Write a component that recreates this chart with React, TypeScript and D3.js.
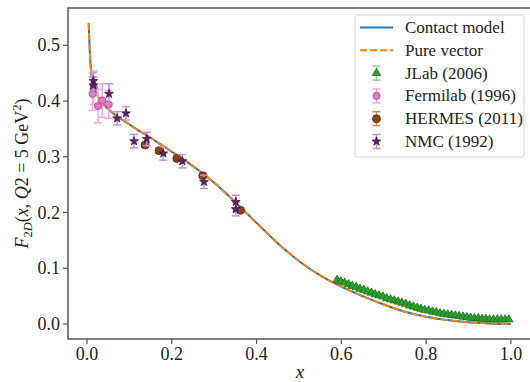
import React, { useEffect, useRef } from 'react';
import * as d3 from 'd3';

// model curves
const modelX = [0.004, 0.006, 0.008, 0.01, 0.015, 0.02, 0.03, 0.04, 0.05, 0.06, 0.08, 0.10, 0.12, 0.14, 0.16, 0.18, 0.20, 0.22, 0.24, 0.26, 0.28, 0.30, 0.33, 0.36, 0.40, 0.45, 0.50, 0.55, 0.60, 0.65, 0.70, 0.75, 0.80, 0.85, 0.90, 0.95, 1.0];
const contactY = [0.54, 0.50, 0.47, 0.452, 0.43, 0.418, 0.403, 0.393, 0.386, 0.379, 0.368, 0.358, 0.348, 0.339, 0.329, 0.319, 0.309, 0.299, 0.2885, 0.2775, 0.2658, 0.2533, 0.2328, 0.211, 0.1814, 0.145, 0.113, 0.087, 0.067, 0.050, 0.035, 0.022, 0.013, 0.007, 0.003, 0.001, 0.0];
const vectorY = [0.54, 0.50, 0.47, 0.452, 0.43, 0.418, 0.403, 0.393, 0.386, 0.379, 0.368, 0.358, 0.348, 0.339, 0.329, 0.319, 0.309, 0.299, 0.2885, 0.2775, 0.2658, 0.2533, 0.2328, 0.211, 0.1814, 0.145, 0.113, 0.087, 0.067, 0.050, 0.035, 0.022, 0.013, 0.007, 0.003, 0.001, 0.0];

// JLab (2006)
const jlabX = [0.590, 0.599, 0.608, 0.617, 0.626, 0.635, 0.644, 0.653, 0.662, 0.671, 0.680, 0.689, 0.698, 0.707, 0.716, 0.725, 0.734, 0.743, 0.752, 0.761, 0.770, 0.779, 0.788, 0.797, 0.806, 0.815, 0.824, 0.833, 0.842, 0.851, 0.860, 0.869, 0.878, 0.887, 0.896, 0.905, 0.914, 0.923, 0.932, 0.941, 0.950, 0.959, 0.968, 0.977, 0.986, 0.995];
const jlabY = [0.079, 0.076, 0.074, 0.071, 0.068, 0.066, 0.063, 0.061, 0.058, 0.056, 0.053, 0.051, 0.049, 0.046, 0.044, 0.042, 0.040, 0.038, 0.036, 0.033, 0.031, 0.029, 0.027, 0.025, 0.024, 0.022, 0.021, 0.019, 0.018, 0.017, 0.016, 0.015, 0.014, 0.013, 0.012, 0.011, 0.010, 0.010, 0.009, 0.009, 0.008, 0.008, 0.008, 0.008, 0.008, 0.008];
const jlabErr = 0.003;

// Fermilab (1996)
const fermiX = [0.013, 0.016, 0.026, 0.036, 0.051];
const fermiY = [0.413, 0.424, 0.391, 0.401, 0.394];
const fermiErr = [0.03, 0.03, 0.03, 0.03, 0.025];

// HERMES (2011)
const hermesX = [0.137, 0.170, 0.212, 0.273, 0.362];
const hermesY = [0.321, 0.311, 0.297, 0.266, 0.204];
const hermesErr = [0.004, 0.004, 0.004, 0.004, 0.004];

// NMC (1992)
const nmcX = [0.015, 0.015, 0.052, 0.071, 0.092, 0.111, 0.141, 0.180, 0.225, 0.276, 0.351, 0.351];
const nmcY = [0.436, 0.428, 0.413, 0.369, 0.378, 0.328, 0.332, 0.306, 0.292, 0.255, 0.219, 0.206];
const nmcErr = [0.015, 0.015, 0.018, 0.012, 0.012, 0.012, 0.012, 0.012, 0.012, 0.012, 0.012, 0.012];

const xTicks = [0.0, 0.2, 0.4, 0.6, 0.8, 1.0];
const yTicks = [0.0, 0.1, 0.2, 0.3, 0.4, 0.5];

const FONT = '"Liberation Serif", "DejaVu Serif", serif';

const App = () => {
  const ref = useRef<SVGSVGElement>(null);

  useEffect(() => {
    const svg = d3.select(ref.current);
    svg.selectAll('*').remove();

    const left = 68, right = 532, top = 8, bottom = 339;
    const x = d3.scaleLinear().domain([-0.0448, 1.0498]).range([left, right]);
    const y = d3.scaleLinear().domain([-0.027, 0.567]).range([bottom, top]);

    svg.append('rect').attr('width', 530).attr('height', 382).attr('fill', '#fff');

    svg.append('defs').append('clipPath').attr('id', 'plotclip')
      .append('rect').attr('x', left).attr('y', top).attr('width', right - left).attr('height', bottom - top);

    const plot = svg.append('g').attr('clip-path', 'url(#plotclip)');

    const line = d3.line<number>()
      .x((d, i) => x(modelX[i]))
      .y(d => y(d))
      .curve(d3.curveMonotoneX);

    plot.append('path').attr('d', line(contactY))
      .attr('fill', 'none').attr('stroke', '#1f77b4').attr('stroke-width', 2);
    plot.append('path').attr('d', line(vectorY))
      .attr('fill', 'none').attr('stroke', '#ff7f0e').attr('stroke-width', 2)
      .attr('stroke-dasharray', '7,3');

    const errorbars = (g, xs, ys, errs, color, capW) => {
      xs.forEach((xv, i) => {
        const e = Array.isArray(errs) ? errs[i] : errs;
        const cx = x(xv);
        g.append('line').attr('x1', cx).attr('x2', cx).attr('y1', y(ys[i] - e)).attr('y2', y(ys[i] + e))
          .attr('stroke', color).attr('stroke-width', 1.5);
        [ys[i] - e, ys[i] + e].forEach(v => {
          g.append('line').attr('x1', cx - capW).attr('x2', cx + capW).attr('y1', y(v)).attr('y2', y(v))
            .attr('stroke', color).attr('stroke-width', 1.5);
        });
      });
    };

    const markers = (g, xs, ys, type, size, fill, stroke) => {
      const sym = d3.symbol().type(type).size(size);
      xs.forEach((xv, i) => {
        g.append('path').attr('d', sym())
          .attr('transform', `translate(${x(xv)},${y(ys[i])})`)
          .attr('fill', fill).attr('stroke', stroke).attr('stroke-width', 0.8);
      });
    };

    // JLab
    errorbars(plot, jlabX, jlabY, jlabErr, '#93d393', 2.5);
    markers(plot, jlabX, jlabY, d3.symbolTriangle, 30, '#2ca02c', '#1c6e1c');
    // Fermilab
    errorbars(plot, fermiX, fermiY, fermiErr, '#f5a8dc', 4);
    markers(plot, fermiX, fermiY, d3.symbolCircle, 40, '#e377c2', '#a04a88');
    // HERMES
    errorbars(plot, hermesX, hermesY, hermesErr, '#c98a5e', 4);
    markers(plot, hermesX, hermesY, d3.symbolCircle, 50, '#8c4510', '#5a2c0a');
    // NMC
    errorbars(plot, nmcX, nmcY, nmcErr, '#c68fd6', 4);
    markers(plot, nmcX, nmcY, d3.symbolStar, 24, '#5e2468', '#3d1444');

    // spines
    const spine = '#555';
    svg.append('rect').attr('x', left).attr('y', top).attr('width', right - left).attr('height', bottom - top)
      .attr('fill', 'none').attr('stroke', spine).attr('stroke-width', 1.5);

    // x ticks
    xTicks.forEach(t => {
      svg.append('line').attr('x1', x(t)).attr('x2', x(t)).attr('y1', bottom).attr('y2', bottom + 5)
        .attr('stroke', spine).attr('stroke-width', 1.2);
      svg.append('text').attr('x', x(t)).attr('y', 360).attr('text-anchor', 'middle')
        .attr('font-family', FONT).attr('font-size', 18).attr('fill', '#222')
        .text(d3.format('.1f')(t));
    });
    // y ticks
    yTicks.forEach(t => {
      svg.append('line').attr('x1', left - 5).attr('x2', left).attr('y1', y(t)).attr('y2', y(t))
        .attr('stroke', spine).attr('stroke-width', 1.2);
      svg.append('text').attr('x', 60).attr('y', y(t) + 6).attr('text-anchor', 'end')
        .attr('font-family', FONT).attr('font-size', 18).attr('fill', '#222')
        .text(d3.format('.1f')(t));
    });

    // axis labels
    svg.append('text').attr('x', (left + right) / 2).attr('y', 378).attr('text-anchor', 'middle')
      .attr('font-family', FONT).attr('font-size', 19).attr('font-style', 'italic').attr('fill', '#222')
      .text('x');

    const yl = svg.append('text')
      .attr('transform', `translate(28,${(top + bottom) / 2}) rotate(-90)`)
      .attr('text-anchor', 'middle')
      .attr('font-family', FONT).attr('font-size', 18).attr('fill', '#222');
    yl.append('tspan').attr('font-style', 'italic').text('F');
    yl.append('tspan').attr('font-size', 12.5).attr('dy', 4).text('2');
    yl.append('tspan').attr('font-style', 'italic').attr('font-size', 12.5).text('D');
    yl.append('tspan').attr('dy', -4).text('(');
    yl.append('tspan').attr('font-style', 'italic').text('x');
    yl.append('tspan').text(', ');
    yl.append('tspan').attr('font-style', 'italic').text('Q');
    yl.append('tspan').text('2 = 5 GeV');
    yl.append('tspan').attr('font-size', 12.5).attr('dy', -7).text('2');
    yl.append('tspan').attr('dy', 7).text(')');

    // legend
    const lg = svg.append('g');
    lg.append('rect').attr('x', 355).attr('y', 15).attr('width', 169).attr('height', 142).attr('rx', 3)
      .attr('fill', 'rgba(255,255,255,0.85)').attr('stroke', '#d4d4d4').attr('stroke-width', 1);
    const rowY = (i) => 27.5 + i * 22.8;
    const items = [
      { label: 'Contact model', kind: 'line', color: '#1f77b4' },
      { label: 'Pure vector', kind: 'dash', color: '#ff7f0e' },
      { label: 'JLab (2006)', kind: 'pt', sym: d3.symbolTriangle, size: 30, fill: '#2ca02c', stroke: '#1c6e1c', err: '#93d393' },
      { label: 'Fermilab (1996)', kind: 'pt', sym: d3.symbolCircle, size: 40, fill: '#e377c2', stroke: '#a04a88', err: '#f5a8dc' },
      { label: 'HERMES (2011)', kind: 'pt', sym: d3.symbolCircle, size: 50, fill: '#8c4510', stroke: '#5a2c0a', err: '#c98a5e' },
      { label: 'NMC (1992)', kind: 'pt', sym: d3.symbolStar, size: 24, fill: '#5e2468', stroke: '#3d1444', err: '#c68fd6' },
    ];
    items.forEach((it, i) => {
      const cy = rowY(i);
      if (it.kind === 'line' || it.kind === 'dash') {
        lg.append('line').attr('x1', 360).attr('x2', 393).attr('y1', cy).attr('y2', cy)
          .attr('stroke', it.color).attr('stroke-width', 2)
          .attr('stroke-dasharray', it.kind === 'dash' ? '7,3' : null);
      } else {
        const cx = 376.5;
        lg.append('line').attr('x1', cx).attr('x2', cx).attr('y1', cy - 7).attr('y2', cy + 7)
          .attr('stroke', it.err).attr('stroke-width', 1.5);
        [cy - 7, cy + 7].forEach(v => lg.append('line').attr('x1', cx - 4).attr('x2', cx + 4)
          .attr('y1', v).attr('y2', v).attr('stroke', it.err).attr('stroke-width', 1.5));
        lg.append('path').attr('d', d3.symbol().type(it.sym).size(it.size)())
          .attr('transform', `translate(${cx},${cy})`)
          .attr('fill', it.fill).attr('stroke', it.stroke).attr('stroke-width', 0.8);
      }
      lg.append('text').attr('x', 405).attr('y', cy + 5.5)
        .attr('font-family', FONT).attr('font-size', 17).attr('fill', '#222')
        .text(it.label);
    });
  }, []);

  return (
    <svg ref={ref} width={530} height={382} style={{ position: 'absolute', left: 0, top: 0 }} />
  );
};

export default App;
